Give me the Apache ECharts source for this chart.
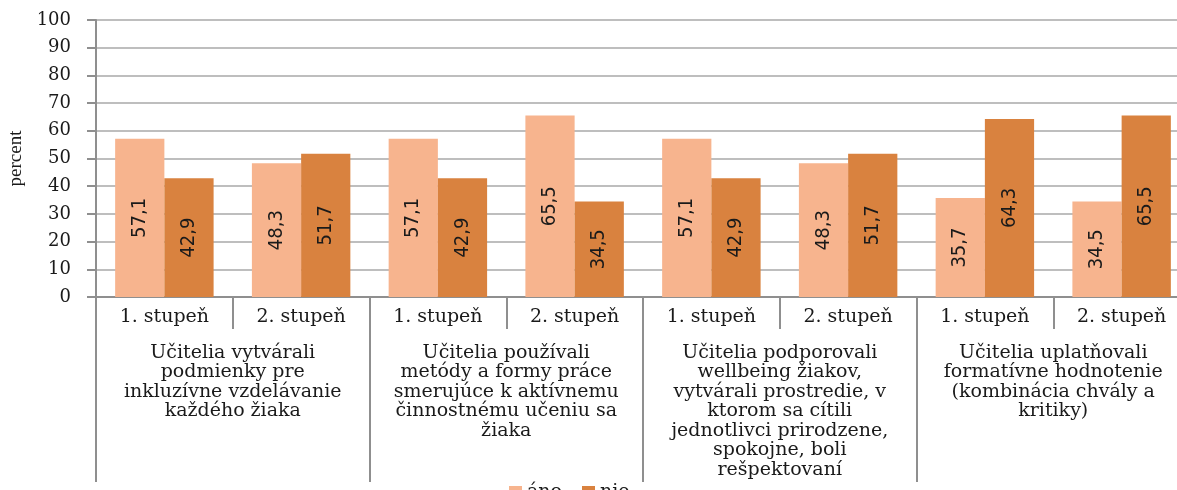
<!DOCTYPE html>
<html>
<head>
<meta charset="utf-8">
<script src="https://cdn.jsdelivr.net/npm/echarts@6/dist/echarts.min.js"></script>
<style>
    html, body { margin: 0; padding: 0; background: #fff; }
    #chart { width: 1177px; height: 490px; }
</style>
</head>
<body>
<div id="chart"></div>
<script>
    let stupne = ['1. stupeň', '2. stupeň', '1. stupeň', '2. stupeň', '1. stupeň', '2. stupeň', '1. stupeň', '2. stupeň'];
    let skupiny = [
        'Učitelia vytvárali\npodmienky pre\ninkluzívne vzdelávanie\nkaždého žiaka',
        'Učitelia používali\nmetódy a formy práce\nsmerujúce k aktívnemu\nčinnostnému učeniu sa\nžiaka',
        'Učitelia podporovali\nwellbeing žiakov,\nvytvárali prostredie, v\nktorom sa cítili\njednotlivci prirodzene,\nspokojne, boli\nrešpektovaní',
        'Učitelia uplatňovali\nformatívne hodnotenie\n(kombinácia chvály a\nkritiky)'
    ];
    let ano = [57.1, 48.3, 57.1, 65.5, 57.1, 48.3, 35.7, 34.5];
    let nie = [42.9, 51.7, 42.9, 34.5, 42.9, 51.7, 64.3, 65.5];

    let serif = 'DejaVu Serif';
    let gray = '#8f8f8f';

    let barLabel = {
        show: true,
        position: 'inside',
        rotate: 90,
        color: '#1a1a1a',
        fontFamily: '"DejaVu Sans Condensed", sans-serif',
        fontSize: 20,
        formatter: function (p) {
            return p.value.toFixed(1).replace('.', ',');
        }
    };

    let myChart = echarts.init(document.getElementById('chart'));
    myChart.setOption({
        backgroundColor: '#ffffff',
        animation: false,
        color: ['#f7b48e', '#d9823f'],
        grid: { left: 96, top: 20, width: 1094, height: 277, outerBoundsMode: 'none', containLabel: false },
        legend: {
            left: 504,
            top: 478,
            itemWidth: 13,
            itemHeight: 13,
            itemGap: 20,
            icon: 'rect',
            textStyle: { fontFamily: serif, fontSize: 19, color: '#1a1a1a' },
            data: ['áno', 'nie']
        },
        xAxis: [
            {
                type: 'category',
                position: 'bottom',
                data: stupne,
                axisLine: { lineStyle: { color: gray, width: 2 } },
                axisTick: { show: true, interval: 0, length: 32, lineStyle: { color: gray, width: 2 } },
                axisLabel: {
                    interval: 0, margin: 11, color: '#1a1a1a',
                    fontFamily: serif, fontSize: 19
                }
            },
            {
                type: 'category',
                position: 'bottom',
                data: skupiny,
                axisLine: { show: false },
                axisTick: { show: true, interval: 0, length: 185, lineStyle: { color: gray, width: 2 } },
                axisLabel: {
                    interval: 0, margin: 46, color: '#1a1a1a',
                    fontFamily: serif, fontSize: 19, lineHeight: 19.5, align: 'center'
                }
            }
        ],
        yAxis: {
            type: 'value',
            min: 0,
            max: 100,
            interval: 10,
            name: 'percent',
            nameLocation: 'middle',
            nameRotate: 90,
            nameGap: 68,
            nameTextStyle: { fontFamily: 'Liberation Serif', fontSize: 19, color: '#1a1a1a' },
            axisLine: { show: true, lineStyle: { color: gray, width: 2 } },
            axisTick: { show: true, length: 9, lineStyle: { color: gray, width: 2 } },
            axisLabel: { margin: 25, color: '#1a1a1a', fontFamily: serif, fontSize: 18 },
            splitLine: { lineStyle: { color: '#a9a9a9', width: 1.5 } }
        },
        series: [
            {
                name: 'áno',
                type: 'bar',
                xAxisIndex: 0,
                data: ano,
                barGap: 0,
                barCategoryGap: '28%',
                label: barLabel
            },
            {
                name: 'nie',
                type: 'bar',
                xAxisIndex: 0,
                data: nie,
                barGap: 0,
                barCategoryGap: '28%',
                label: barLabel
            }
        ]
    });
</script>
</body>
</html>
